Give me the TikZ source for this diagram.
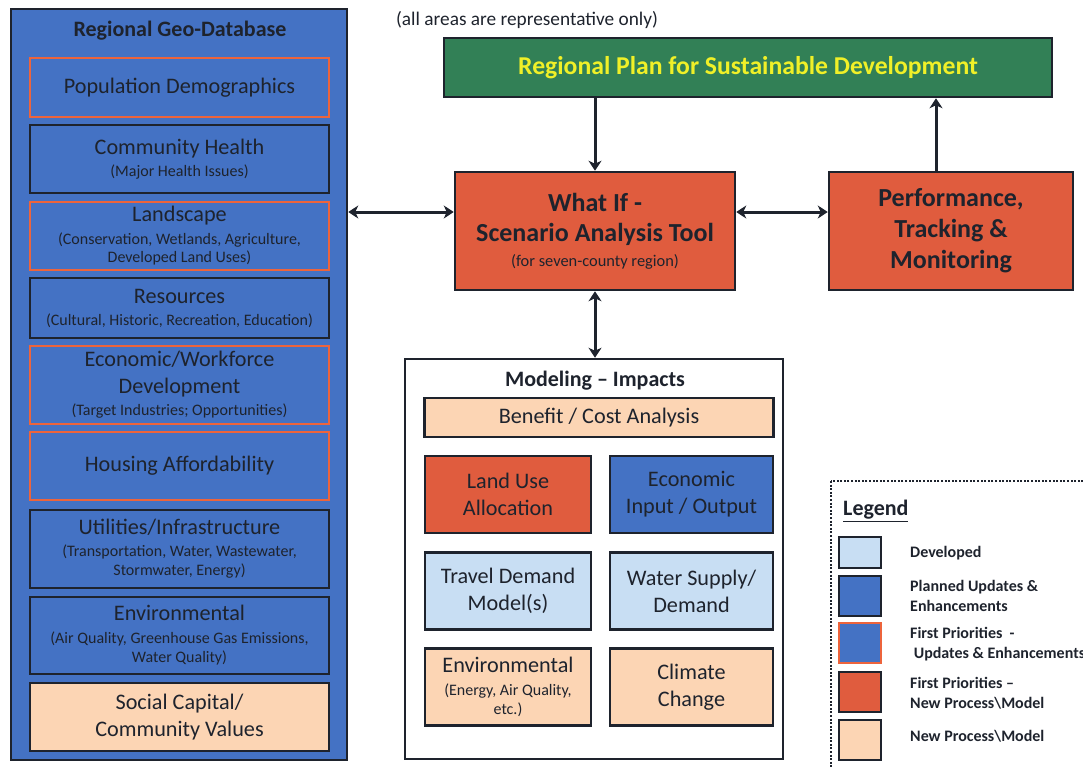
\documentclass[tikz,border=0pt]{standalone}
\usepackage{fontspec}
\setmainfont{Carlito}
\usetikzlibrary{arrows.meta}

\definecolor{gdblue}{RGB}{68,114,196}
\definecolor{priored}{RGB}{237,100,60}
\definecolor{newred}{RGB}{224,92,62}
\definecolor{peach}{RGB}{252,213,180}
\definecolor{devblue}{RGB}{200,222,243}
\definecolor{plangreen}{RGB}{50,128,86}
\definecolor{planyellow}{RGB}{240,240,40}
\definecolor{ink}{RGB}{30,35,45}

\newcommand\boxfont{\fontsize{22.2}{27}\selectfont}
\newcommand\subfont{\fontsize{16}{18}\selectfont}
\newcommand\legfont{\bfseries\fontsize{16}{20}\selectfont}

\begin{document}
\begin{tikzpicture}[x=1pt,y=-1pt,
        >={Stealth[length=10pt,width=13pt,inset=3pt]},
        panel/.style={draw=ink, line width=2.5pt, fill=gdblue},
        layer/.style={draw=ink, line width=2.5pt, fill=gdblue, minimum width=299pt,
                        inner sep=0pt, align=center, text=ink, font=\boxfont},
        prio/.style={layer, draw=priored, line width=2pt},
        model/.style={draw=ink, line width=2.5pt, minimum width=166pt, minimum height=77pt,
                        inner sep=0pt, align=center, text=ink, font=\boxfont},
        tool/.style={draw=ink, line width=2.5pt, fill=newred, minimum height=118pt,
                        inner sep=0pt, align=center, text=ink},
        swatch/.style={draw=ink, line width=2.5pt, minimum width=42pt,
                        minimum height=40pt, inner sep=0pt},
        leg/.style={anchor=west, align=left, font=\legfont, text=ink, inner sep=0pt},
        arr/.style={draw=ink, line width=3pt}]
    \useasboundingbox (0,0) rectangle (1083,766);

    \node[text=ink, font=\fontsize{19.3}{22}\selectfont] (note) at (527,20)
        {(all areas are representative only)};

    \node[panel, minimum width=336pt, minimum height=751pt] (geodb) at (179,384.5) {};
    \node[text=ink, font=\bfseries\fontsize{22}{24}\selectfont] (geotitle) at (180,31)
        {Regional Geo-Database};
    \node[prio, minimum height=59pt] (pop) at (179.5,87.5) {Population Demographics};
    \node[layer, minimum height=68pt] (health) at (179.5,159)
        {Community Health\\[-5pt]\subfont (Major Health Issues)};
    \node[prio, minimum height=68pt] (landscape) at (179.5,236)
        {Landscape\\[-4pt]\subfont (Conservation, Wetlands, Agriculture,\\[-9pt]\subfont Developed Land Uses)};
    \node[layer, minimum height=60pt] (resources) at (179.5,308)
        {Resources\\[-5pt]\subfont (Cultural, Historic, Recreation, Education)};
    \node[prio, minimum height=78pt] (econ) at (179.5,385)
        {Economic/Workforce\\Development\\[-5pt]\subfont (Target Industries; Opportunities)};
    \node[prio, minimum height=68pt] (housing) at (179.5,466) {Housing Affordability};
    \node[layer, minimum height=78pt] (utilities) at (179.5,549)
        {Utilities/Infrastructure\\[-5pt]\subfont (Transportation, Water, Wastewater,\\[-8pt]\subfont Stormwater, Energy)};
    \node[layer, minimum height=77pt] (envir) at (179.5,635.5)
        {Environmental\\[-4pt]\subfont (Air Quality, Greenhouse Gas Emissions,\\[-8pt]\subfont Water Quality)};
    \node[layer, fill=peach, minimum height=68pt] (social) at (179.5,717)
        {Social Capital/\\Community Values};

    \node[draw=ink, line width=2.5pt, fill=plangreen, minimum width=608pt, minimum height=59pt,
          text=planyellow, font=\bfseries\fontsize{25.7}{28}\selectfont] (plan) at (748,67.5)
        {Regional Plan for Sustainable Development};
    \node[tool, minimum width=280pt, font=\bfseries\fontsize{26}{30}\selectfont] (whatif) at (595,231)
        {What If -\\Scenario Analysis Tool\\[-5pt]\mdseries\fontsize{16.4}{18}\selectfont (for seven-county region)};
    \node[tool, minimum width=244pt, font=\bfseries\fontsize{26}{31}\selectfont] (perf) at (951,231)
        {Performance,\\Tracking \&\\Monitoring};

    \node[draw=ink, line width=2.5pt, fill=white, minimum width=378pt, minimum height=400pt]
        (modeling) at (594,559) {};
    \node[text=ink, font=\bfseries\fontsize{22}{24}\selectfont] (modtitle) at (595,381)
        {Modeling -- Impacts};
    \node[model, fill=peach, minimum width=349pt, minimum height=39pt] (benefit) at (599,417.5)
        {Benefit / Cost Analysis};
    \node[model, fill=newred] (landuse) at (508,494.5) {Land Use\\Allocation};
    \node[model, fill=gdblue, minimum width=163pt] (econio) at (691.5,494.5) {Economic\\Input / Output};
    \node[model, fill=devblue] (travel) at (508,591) {Travel Demand\\Model(s)};
    \node[model, fill=devblue, minimum width=163pt] (water) at (691.5,591) {Water Supply/\\Demand};
    \node[model, fill=peach] (envimp) at (508,687)
        {Environmental\\[-4pt]\subfont (Energy, Air Quality,\\[-8pt]\subfont etc.)};
    \node[model, fill=peach, minimum width=163pt] (climate) at (691.5,687) {Climate\\Change};

    \draw[arr, ->] (plan.south -| whatif.north) -- (whatif.north);
    \draw[arr, ->] ([xshift=-15pt]perf.north) -- ([xshift=-15pt]perf.north |- plan.south);
    \draw[arr, <->] ([yshift=19pt]whatif.west -| geodb.east) -- ([yshift=19pt]whatif.west);
    \draw[arr, <->] ([yshift=19pt]whatif.east) -- ([yshift=19pt]perf.west);
    \draw[arr, <->] (whatif.south) -- (whatif.south |- modeling.north);

    \draw[ink, line width=2.5pt, dash pattern=on 2pt off 1.6pt] (831,481) rectangle (1100,790);
    \node[leg, font=\bfseries\fontsize{22}{24}\selectfont] (legtitle) at (843,511) {\underline{Legend}};
    \node[swatch, fill=devblue, minimum height=31pt] (sdev) at (860,552.5) {};
    \node[swatch, fill=gdblue] (splan) at (860,596) {};
    \node[swatch, fill=gdblue, draw=priored, line width=2pt] (sprio) at (860,643) {};
    \node[swatch, fill=newred] (snewp) at (860,692) {};
    \node[swatch, fill=peach] (snew) at (860,740) {};
    \node[leg] (ldev) at (910,553) {Developed};
    \node[leg] (lplan) at (910,596) {Planned Updates \&\\Enhancements};
    \node[leg] (lprio) at (910,644) {First Priorities~~-\\~Updates \& Enhancements};
    \node[leg] (lnewp) at (910,693) {First Priorities --\\New Process\textbackslash Model};
    \node[leg] (lnew) at (910,736) {New Process\textbackslash Model};
\end{tikzpicture}
\end{document}
